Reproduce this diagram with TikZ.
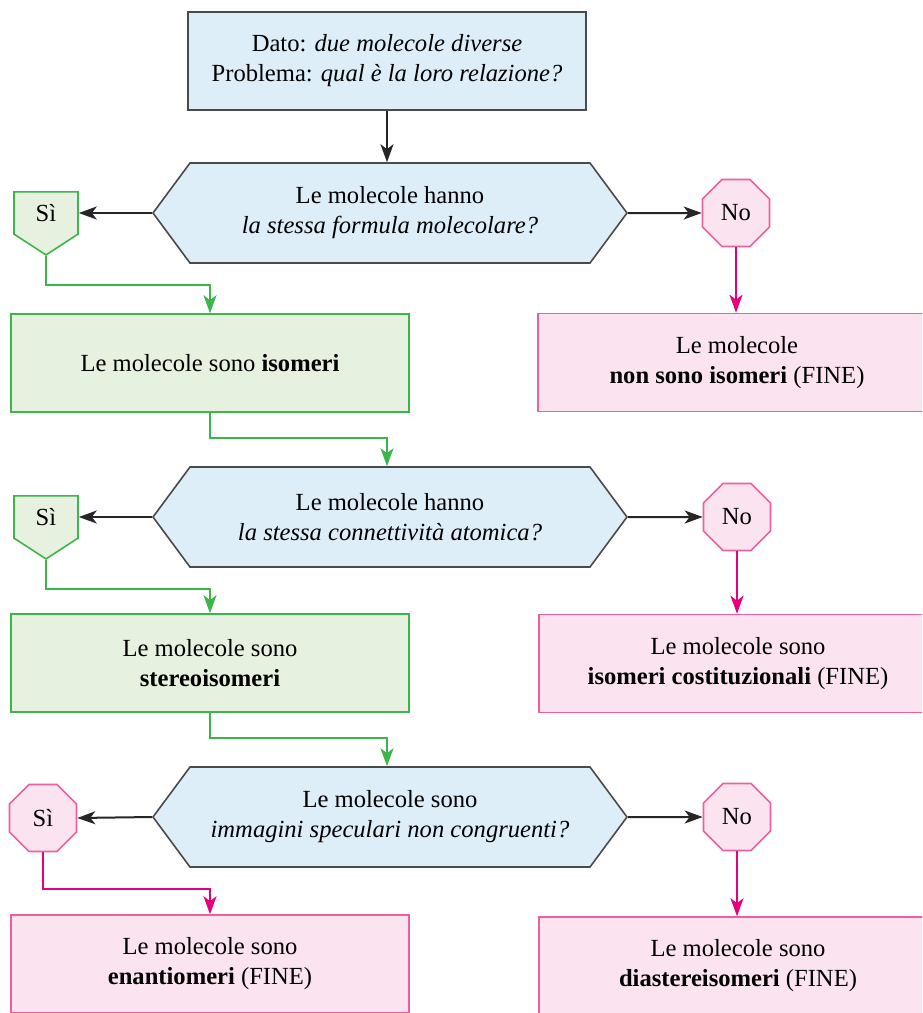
\documentclass[tikz,border=0pt]{standalone}
\usepackage{fontspec}
\setmainfont{Liberation Serif}
\usetikzlibrary{shapes.geometric,shapes.symbols,arrows.meta}
\definecolor{bluefill}{HTML}{DDEEF9}
\definecolor{blueline}{HTML}{4A4A4A}
\definecolor{greenfill}{HTML}{E6F1DF}
\definecolor{greenline}{HTML}{3CB54A}
\definecolor{pinkfill}{HTML}{FBE4EF}
\definecolor{pinkline}{HTML}{E5007D}
\definecolor{pinkborder}{HTML}{EC5FA0}
\begin{document}
\begin{tikzpicture}[x=0.5pt,y=-0.5pt,
  font=\fontsize{12.3}{15}\selectfont,
  tip/.style={-{Stealth[length=9pt,width=6.5pt,inset=2.5pt]}},
  boxbase/.style={rectangle, minimum width=199pt, minimum height=49pt, align=center, line width=0.8pt, inner sep=0pt},
  bluebox/.style={boxbase, fill=bluefill, draw=blueline},
  greenbox/.style={boxbase, fill=greenfill, draw=greenline},
  pinkbox/.style={boxbase, fill=pinkfill, draw=pinkborder},
  hexa/.style={signal, signal to=west and east, signal pointer angle=107, minimum width=237pt, minimum height=50pt, fill=bluefill, draw=blueline, line width=0.8pt, align=center, inner sep=0pt},
  yespent/.style={signal, signal to=south, signal from=nowhere, signal pointer angle=114, minimum width=32pt, minimum height=24.5pt, fill=greenfill, draw=greenline, line width=0.8pt, inner sep=0pt},
  octo/.style={regular polygon, regular polygon sides=8, minimum size=36.3pt, fill=pinkfill, draw=pinkborder, line width=0.8pt, inner sep=0pt},
  blk/.style={tip, draw=black!85, line width=1pt},
  grn/.style={tip, draw=greenline, line width=1pt},
  pnk/.style={tip, draw=pinkline, line width=1pt}
]
\path[use as bounding box, clip] (0,0) rectangle (922,1013);

% row 0
\node[bluebox] (top) at (387,61) {Dato: \textit{due molecole diverse}\\Problema: \textit{qual è la loro relazione?}};

% row 1
\node[hexa] (hex1) at (390,213) {Le molecole hanno\\\textit{la stessa formula molecolare?}};
\node[yespent, anchor=north] (si1) at (46,191) {Sì};
\node[octo] (no1) at (736,213) {No};
\node[greenbox] (gbox1) at (210,363) {Le molecole sono \textbf{isomeri}};
\node[pinkbox] (pbox1) at (737,362.5) {Le molecole\\\textbf{non sono isomeri} (FINE)};

% row 2
\node[hexa] (hex2) at (390,517) {Le molecole hanno\\\textit{la stessa connettività atomica?}};
\node[yespent, anchor=north] (si2) at (46,495) {Sì};
\node[octo] (no2) at (737,517) {No};
\node[greenbox] (gbox2) at (210,663) {Le molecole sono\\\textbf{stereoisomeri}};
\node[pinkbox] (pbox2) at (738,663.5) {Le molecole sono\\\textbf{isomeri costituzionali} (FINE)};

% row 3
\node[hexa] (hex3) at (390,817) {Le molecole sono\\\textit{immagini speculari non congruenti?}};
\node[octo] (si3) at (43,818) {Sì};
\node[octo] (no3) at (737,817) {No};
\node[pinkbox] (pbox3) at (210,964) {Le molecole sono\\\textbf{enantiomeri} (FINE)};
\node[pinkbox] (pbox4) at (738,966) {Le molecole sono\\\textbf{diastereisomeri} (FINE)};

% connectors
\draw[blk] (top.south) -- (top.south |- hex1.north);
\draw[blk] (hex1.west) -- (hex1.west -| si1.east);
\draw[blk] (hex1.east) -- (no1.west);
\draw[grn] (si1.south) -- ++(0,29) -| (gbox1.north);
\draw[pnk] (no1.south) -- (no1.south |- pbox1.north);

\draw[grn] (gbox1.south) -- ++(0,25) -| (top.south |- hex2.north);
\draw[blk] (hex2.west) -- (hex2.west -| si2.east);
\draw[blk] (hex2.east) -- (no2.west);
\draw[grn] (si2.south) -- ++(0,29) -| (gbox2.north);
\draw[pnk] (no2.south) -- (no2.south |- pbox2.north);

\draw[grn] (gbox2.south) -- ++(0,25) -| (top.south |- hex3.north);
\draw[blk] (hex3.west) -- (si3.east);
\draw[blk] (hex3.east) -- (no3.west);
\draw[pnk] (si3.south) -- ++(0,37) -| (pbox3.north);
\draw[pnk] (no3.south) -- (no3.south |- pbox4.north);
\end{tikzpicture}
\end{document}
